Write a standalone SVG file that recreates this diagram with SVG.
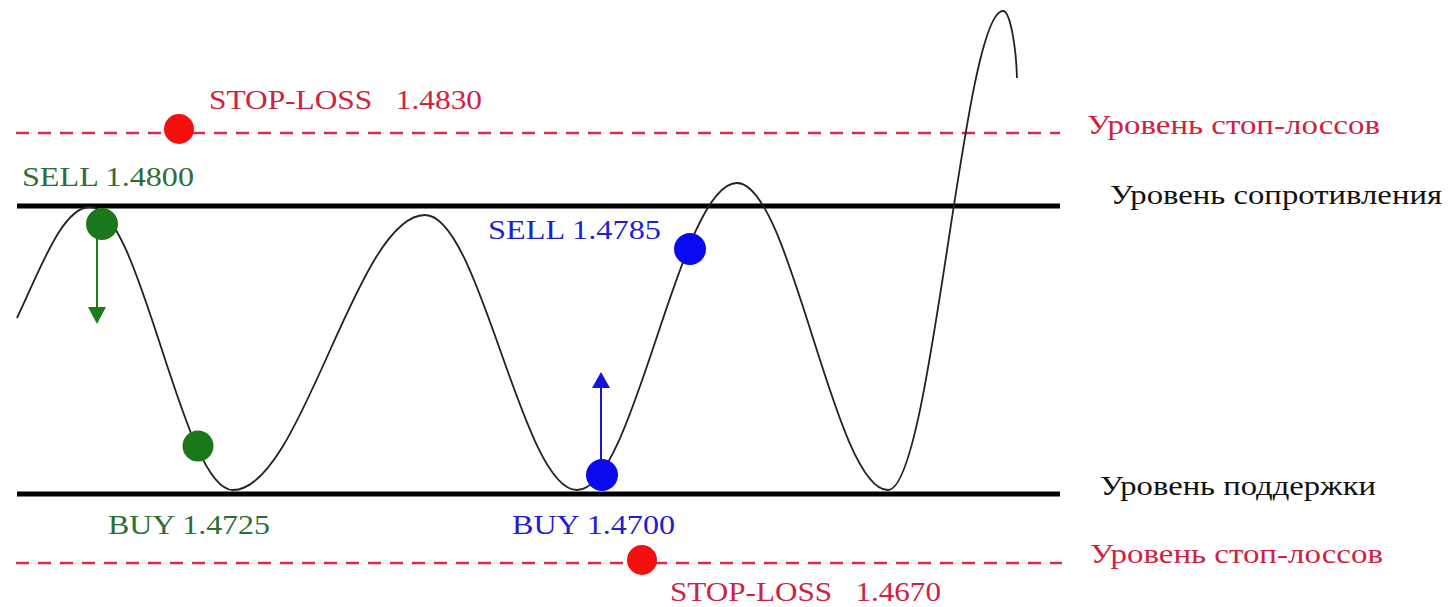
<svg xmlns="http://www.w3.org/2000/svg" width="1452" height="607" viewBox="0 0 1452 607">
<style>
text{font-family:"Liberation Serif","Times New Roman",serif;font-size:28px}
.red{fill:#d0223f}
.grn{fill:#2b6f35}
.blu{fill:#1f1fd0}
.blk{fill:#111}
.dash{stroke:#e0284a;stroke-width:2.5;stroke-dasharray:13 9;fill:none}
.level{stroke:#000;stroke-width:5;fill:none}
.curve{stroke:#222;stroke-width:1.8;fill:none}
</style>
<rect width="1452" height="607" fill="#fff"/>
<g id="levels">
<line class="dash" x1="16" y1="133" x2="1060" y2="133"/>
<line class="level" x1="17" y1="206" x2="1060" y2="206"/>
<line class="level" x1="17" y1="494" x2="1060" y2="494"/>
<line class="dash" x1="16" y1="563" x2="1062" y2="563"/>
</g>
<g id="price-curve">
<path class="curve" d="M17,318 C40,270 62,207 90,207 C141,207 182,490 233,490 C302,490 356,215 425,215 C480,215 522,490 577,490 C635,490 679,183 737,183 C791,183 834,490 888,490 C932,490 963,11 1003,11 C1010,11 1016,45 1017,78"/>
</g>
<g id="connectors">
<line x1="97" y1="232" x2="97" y2="309" stroke="#1d7a1d" stroke-width="2"/>
<path d="M88,307 L106,307 L97,324 Z" fill="#1d7a1d"/>
<line x1="601" y1="470" x2="601" y2="386" stroke="#1515d8" stroke-width="2"/>
<path d="M592,388 L610,388 L601,372 Z" fill="#1515d8"/>
</g>
<g id="stop-loss-top">
<circle cx="179" cy="129" r="15" fill="#f50f0f"/>
<text class="red" x="209" y="109" textLength="273" lengthAdjust="spacingAndGlyphs" xml:space="preserve">STOP-LOSS   1.4830</text>
</g>
<g id="sell-green">
<circle cx="102" cy="224" r="16" fill="#1a781a"/>
<text class="grn" x="22" y="186" textLength="172" lengthAdjust="spacingAndGlyphs">SELL 1.4800</text>
</g>
<g id="buy-green">
<circle cx="198" cy="446" r="15.5" fill="#1a781a"/>
<text class="grn" x="108" y="534" textLength="162" lengthAdjust="spacingAndGlyphs">BUY 1.4725</text>
</g>
<g id="sell-blue">
<circle cx="690" cy="249" r="16" fill="#0a0aef"/>
<text class="blu" x="488" y="239" textLength="173" lengthAdjust="spacingAndGlyphs">SELL 1.4785</text>
</g>
<g id="buy-blue">
<circle cx="602" cy="475" r="16" fill="#0a0aef"/>
<text class="blu" x="512" y="534" textLength="163" lengthAdjust="spacingAndGlyphs">BUY 1.4700</text>
</g>
<g id="stop-loss-bottom">
<circle cx="642" cy="560" r="15" fill="#f50f0f"/>
<text class="red" x="670" y="601" textLength="271" lengthAdjust="spacingAndGlyphs" xml:space="preserve">STOP-LOSS   1.4670</text>
</g>
<g id="labels">
<text class="red" x="1087" y="134" textLength="293" lengthAdjust="spacingAndGlyphs">Уровень стоп-лоссов</text>
<text class="blk" x="1110" y="204" textLength="332" lengthAdjust="spacingAndGlyphs">Уровень сопротивления</text>
<text class="blk" x="1100" y="495" textLength="276" lengthAdjust="spacingAndGlyphs">Уровень поддержки</text>
<text class="red" x="1090" y="563" textLength="293" lengthAdjust="spacingAndGlyphs">Уровень стоп-лоссов</text>
</g>
</svg>
